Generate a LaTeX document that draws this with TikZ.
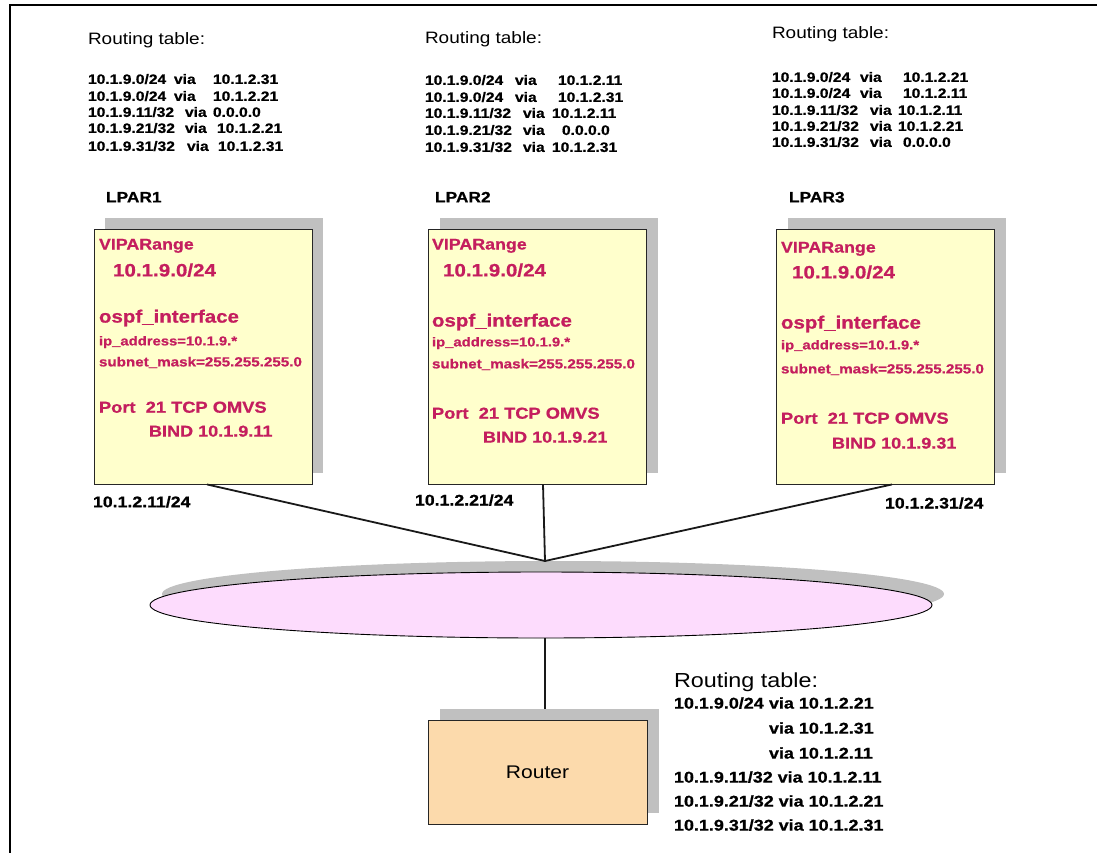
\documentclass[tikz,border=0pt]{standalone}
\usepackage{fontspec}
\setmainfont[FakeStretch=1.15,BoldFeatures={FakeBold=0.8}]{Liberation Sans}
\usetikzlibrary{shapes.geometric}

\definecolor{lparfill}{RGB}{255,255,204}
\definecolor{shadowgray}{RGB}{192,192,192}
\definecolor{lanfill}{RGB}{253,220,253}
\definecolor{routerfill}{RGB}{252,218,172}
\definecolor{cfgtext}{RGB}{196,30,94}

\newcommand{\fsz}[1]{\fontsize{#1}{#1}\selectfont}
% one routing entry: prefix, "via" at offset #1, next hop at offset #2
\newcommand{\rtline}[4]{\makebox[#1pt][l]{#3}\makebox[\dimexpr#2pt-#1pt\relax][l]{via}#4}

\begin{document}
\begin{tikzpicture}[x=1pt,y=-1pt,
  txt/.style={anchor=base west,inner sep=0pt,outer sep=0pt},
  hdr/.style={txt,font=\fsz{16.5}},
  rte/.style={txt,font=\fsz{13.6}\bfseries},
  lparname/.style={txt,font=\fsz{15.1}\bfseries},
  ifaddr/.style={txt,font=\fsz{15.4}\bfseries},
  cfg/.style={txt,text=cfgtext,font=\bfseries},
  shadowbox/.style={draw=none,fill=shadowgray,inner sep=0pt},
  lparbox/.style={draw=black!85,line width=0.9pt,fill=lparfill,inner sep=0pt,
    minimum width=218pt,minimum height=255pt},
  link/.style={draw=black!90,line width=1.8pt},
  frame/.style={draw=black,line width=1.4pt}]

\useasboundingbox (0,0) rectangle (1097,853);
\fill[white] (0,0) rectangle (1097,853);

% page frame
\draw[frame] (10,853) -- (10,5) -- (1097,5);

% ---------- routing tables of the three LPARs ----------
\node[hdr] (rt1h) at (88,44.5) {Routing table:};
\node[rte] (rt1a) at (88,83.9)  {\rtline{86}{125}{10.1.9.0/24}{10.1.2.31}};
\node[rte] (rt1b) at (88,100.9) {\rtline{86}{125}{10.1.9.0/24}{10.1.2.21}};
\node[rte] (rt1c) at (88,116.9) {\rtline{97}{125}{10.1.9.11/32}{0.0.0.0}};
\node[rte] (rt1d) at (88,132.9) {\rtline{97}{129}{10.1.9.21/32}{10.1.2.21}};
\node[rte] (rt1e) at (88,150.9) {\rtline{99}{130}{10.1.9.31/32}{10.1.2.31}};

\node[hdr] (rt2h) at (425,43.5) {Routing table:};
\node[rte] (rt2a) at (425,84.9)  {\rtline{90}{133}{10.1.9.0/24}{10.1.2.11}};
\node[rte] (rt2b) at (425,101.9) {\rtline{90}{133}{10.1.9.0/24}{10.1.2.31}};
\node[rte] (rt2c) at (425,117.9) {\rtline{98}{127}{10.1.9.11/32}{10.1.2.11}};
\node[rte] (rt2d) at (425,134.9) {\rtline{98}{137}{10.1.9.21/32}{0.0.0.0}};
\node[rte] (rt2e) at (425,151.9) {\rtline{98}{127}{10.1.9.31/32}{10.1.2.31}};

\node[hdr] (rt3h) at (772,38.5) {Routing table:};
\node[rte] (rt3a) at (772,81.9)  {\rtline{88}{131}{10.1.9.0/24}{10.1.2.21}};
\node[rte] (rt3b) at (772,97.9)  {\rtline{88}{131}{10.1.9.0/24}{10.1.2.11}};
\node[rte] (rt3c) at (772,114.9) {\rtline{98}{126}{10.1.9.11/32}{10.1.2.11}};
\node[rte] (rt3d) at (772,130.9) {\rtline{98}{126}{10.1.9.21/32}{10.1.2.21}};
\node[rte] (rt3e) at (772,146.9) {\rtline{98}{131}{10.1.9.31/32}{0.0.0.0}};

% ---------- LPAR names ----------
\node[lparname] (n1) at (106,202.4) {LPAR1};
\node[lparname] (n2) at (435,202.4) {LPAR2};
\node[lparname] (n3) at (789,202.4) {LPAR3};

% ---------- LPAR boxes with drop shadows ----------
\node[shadowbox,minimum width=218pt,minimum height=255pt] (lpar1shadow) at (214,345.5) {};
\node[shadowbox,minimum width=218pt,minimum height=255pt] (lpar2shadow) at (548.5,345.5) {};
\node[shadowbox,minimum width=218pt,minimum height=255pt] (lpar3shadow) at (896.5,345.5) {};
\node[lparbox] (lpar1) at (203,356.5) {};
\node[lparbox] (lpar2) at (537.5,356.5) {};
\node[lparbox] (lpar3) at (885.5,356.5) {};

% LPAR1 configuration
\node[cfg,font=\fsz{15.5}\bfseries] (c1a) at (99,249.5)  {VIPARange};
\node[cfg,font=\fsz{17.9}\bfseries] (c1b) at (113,276.4) {10.1.9.0/24};
\node[cfg,font=\fsz{17.8}\bfseries] (c1c) at (99,322.6)  {ospf\_interface};
\node[cfg,font=\fsz{12.9}\bfseries] (c1d) at (99,345.4)  {ip\_address=10.1.9.*};
\node[cfg,font=\fsz{13.2}\bfseries] (c1e) at (99,366.4)  {subnet\_mask=255.255.255.0};
\node[cfg,font=\fsz{15.9}\bfseries] (c1f) at (99,412.7)  {Port\ \ 21 TCP OMVS};
\node[cfg,font=\fsz{15.7}\bfseries] (c1g) at (149,436.6) {BIND 10.1.9.11};

% LPAR2 configuration
\node[cfg,font=\fsz{15.5}\bfseries] (c2a) at (432,249.5)  {VIPARange};
\node[cfg,font=\fsz{17.9}\bfseries] (c2b) at (443,276.4)  {10.1.9.0/24};
\node[cfg,font=\fsz{17.8}\bfseries] (c2c) at (432,326.6)  {ospf\_interface};
\node[cfg,font=\fsz{12.9}\bfseries] (c2d) at (432,346.4)  {ip\_address=10.1.9.*};
\node[cfg,font=\fsz{13.2}\bfseries] (c2e) at (432,368.4)  {subnet\_mask=255.255.255.0};
\node[cfg,font=\fsz{15.9}\bfseries] (c2f) at (432,418.7)  {Port\ \ 21 TCP OMVS};
\node[cfg,font=\fsz{15.7}\bfseries] (c2g) at (483,442.6)  {BIND 10.1.9.21};

% LPAR3 configuration
\node[cfg,font=\fsz{15.5}\bfseries] (c3a) at (781,252.5)  {VIPARange};
\node[cfg,font=\fsz{17.9}\bfseries] (c3b) at (792,278.4)  {10.1.9.0/24};
\node[cfg,font=\fsz{17.8}\bfseries] (c3c) at (781,328.6)  {ospf\_interface};
\node[cfg,font=\fsz{12.9}\bfseries] (c3d) at (781,349.4)  {ip\_address=10.1.9.*};
\node[cfg,font=\fsz{13.2}\bfseries] (c3e) at (781,373.4)  {subnet\_mask=255.255.255.0};
\node[cfg,font=\fsz{15.9}\bfseries] (c3f) at (781,423.7)  {Port\ \ 21 TCP OMVS};
\node[cfg,font=\fsz{15.7}\bfseries] (c3g) at (832,448.6)  {BIND 10.1.9.31};

% interface addresses
\node[ifaddr] (a1) at (93,507.2)  {10.1.2.11/24};
\node[ifaddr] (a2) at (415,505.5) {10.1.2.21/24};
\node[ifaddr] (a3) at (885,508.5) {10.1.2.31/24};

% ---------- LAN ----------
\node[ellipse,draw=none,fill=shadowgray,minimum width=782pt,minimum height=66pt,inner sep=0pt]
  (lanshadow) at (553,594) {};
\node[ellipse,draw=black,line width=0.9pt,fill=lanfill,minimum width=782pt,minimum height=66pt,inner sep=0pt]
  (lan) at (541,605) {};
\coordinate (hub) at (545,561);

% ---------- router ----------
\node[shadowbox,minimum width=219pt,minimum height=104pt] (routershadow) at (549.5,761) {};
\node[draw=black!85,line width=0.9pt,fill=routerfill,minimum width=219pt,minimum height=104pt,
  inner sep=0pt,font=\fsz{18.3}] (router) at (537.5,772) {Router};

% router routing table
\node[txt,font=\fsz{20.3}] (rrh) at (674,687.3) {Routing table:};
\node[txt,font=\fsz{15.6}\bfseries] (rra) at (674,708.6) {\makebox[95pt][l]{10.1.9.0/24}via 10.1.2.21};
\node[txt,font=\fsz{15.6}\bfseries] (rrb) at (769,733.6) {via 10.1.2.31};
\node[txt,font=\fsz{15.6}\bfseries] (rrc) at (769,758.6) {via 10.1.2.11};
\node[txt,font=\fsz{15.6}\bfseries] (rrd) at (674,782.6) {10.1.9.11/32 via 10.1.2.11};
\node[txt,font=\fsz{15.6}\bfseries] (rre) at (674,806.6) {10.1.9.21/32 via 10.1.2.21};
\node[txt,font=\fsz{15.6}\bfseries] (rrf) at (674,830.6) {10.1.9.31/32 via 10.1.2.31};

% ---------- connections ----------
\draw[link] ([xshift=4pt]lpar1.south) -- (hub);
\draw[link] ([xshift=5.5pt]lpar2.south) -- (hub);
\draw[link] ([xshift=6.5pt]lpar3.south) -- (hub);
\draw[link] (lan.south -| hub) -- (routershadow.north -| hub);

\end{tikzpicture}
\end{document}
